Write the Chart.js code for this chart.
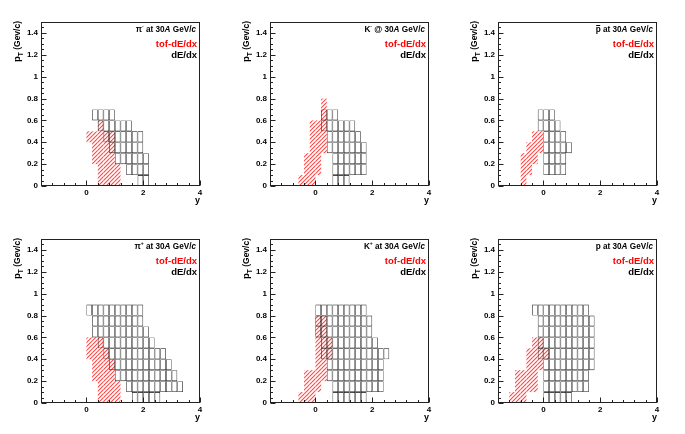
<!DOCTYPE html>
<html>
<head>
<meta charset="utf-8">
<script src="https://cdn.jsdelivr.net/npm/chart.js@4.4.1/dist/chart.umd.min.js"></script>
<style>
  body { margin: 0; background: #fff; width: 685px; height: 434px; position: relative; overflow: hidden; }
  canvas { position: absolute; }
</style>
</head>
<body>
<canvas id="c0" width="228" height="217" style="left:0px;top:0px"></canvas>
<canvas id="c1" width="228" height="217" style="left:229px;top:0px"></canvas>
<canvas id="c2" width="228" height="217" style="left:457px;top:0px"></canvas>
<canvas id="c3" width="228" height="217" style="left:0px;top:217px"></canvas>
<canvas id="c4" width="228" height="217" style="left:229px;top:217px"></canvas>
<canvas id="c5" width="228" height="217" style="left:457px;top:217px"></canvas>
<script>
// bin sizes of the acceptance map
const Y_BIN = 0.2;
const PT_BIN = 0.1;

// axis ticks
const xTickLabels = [0, 2, 4];
const yTickLabels = [0, 0.2, 0.4, 0.6, 0.8, 1, 1.2, 1.4];

// pi- : columns (low y edge) and pT range
const piMinusDedxY  = [0.2, 0.4, 0.6, 0.8, 1.0, 1.2, 1.4, 1.6, 1.8, 2.0];
const piMinusDedxLo = [0.6, 0.5, 0.4, 0.3, 0.2, 0.2, 0.1, 0.1, 0.0, 0.0];
const piMinusDedxHi = [0.7, 0.7, 0.7, 0.7, 0.6, 0.6, 0.6, 0.5, 0.5, 0.3];
const piMinusTofY   = [0.0, 0.2, 0.4, 0.6, 0.8, 1.0];
const piMinusTofLo  = [0.4, 0.2, 0.0, 0.0, 0.0, 0.0];
const piMinusTofHi  = [0.5, 0.5, 0.6, 0.5, 0.5, 0.2];

// K-
const kMinusDedxY  = [0.2, 0.4, 0.6, 0.8, 1.0, 1.2, 1.4, 1.6];
const kMinusDedxLo = [0.5, 0.3, 0.0, 0.0, 0.0, 0.1, 0.1, 0.1];
const kMinusDedxHi = [0.7, 0.7, 0.7, 0.6, 0.6, 0.6, 0.5, 0.4];
const kMinusTofY   = [-0.6, -0.4, -0.2, 0.0, 0.2];
const kMinusTofLo  = [0.0, 0.0, 0.0, 0.1, 0.3];
const kMinusTofHi  = [0.1, 0.3, 0.6, 0.6, 0.8];

// anti-proton
const pBarDedxY  = [-0.2, 0.0, 0.2, 0.4, 0.6, 0.8];
const pBarDedxLo = [0.5, 0.1, 0.1, 0.1, 0.1, 0.3];
const pBarDedxHi = [0.7, 0.7, 0.7, 0.6, 0.5, 0.4];
const pBarTofY   = [-0.8, -0.6, -0.4, -0.2];
const pBarTofLo  = [0.0, 0.1, 0.2, 0.3];
const pBarTofHi  = [0.3, 0.4, 0.5, 0.5];

// pi+
const piPlusDedxY  = [0.0, 0.2, 0.4, 0.6, 0.8, 1.0, 1.2, 1.4, 1.6, 1.8, 2.0, 2.2, 2.4, 2.6, 2.8, 3.0, 3.2];
const piPlusDedxLo = [0.8, 0.6, 0.5, 0.4, 0.3, 0.2, 0.2, 0.1, 0.0, 0.0, 0.0, 0.0, 0.0, 0.1, 0.1, 0.1, 0.1];
const piPlusDedxHi = [0.9, 0.9, 0.9, 0.9, 0.9, 0.9, 0.9, 0.9, 0.9, 0.9, 0.7, 0.6, 0.5, 0.5, 0.4, 0.3, 0.2];
const piPlusTofY   = [0.0, 0.2, 0.4, 0.6, 0.8, 1.0];
const piPlusTofLo  = [0.4, 0.2, 0.0, 0.0, 0.0, 0.0];
const piPlusTofHi  = [0.6, 0.6, 0.6, 0.5, 0.4, 0.2];

// K+
const kPlusDedxY  = [0.0, 0.2, 0.4, 0.6, 0.8, 1.0, 1.2, 1.4, 1.6, 1.8, 2.0, 2.2, 2.4];
const kPlusDedxLo = [0.6, 0.4, 0.2, 0.0, 0.0, 0.0, 0.0, 0.0, 0.0, 0.1, 0.1, 0.1, 0.4];
const kPlusDedxHi = [0.9, 0.9, 0.9, 0.9, 0.9, 0.9, 0.9, 0.9, 0.9, 0.8, 0.6, 0.5, 0.5];
const kPlusTofY   = [-0.6, -0.4, -0.2, 0.0, 0.2, 0.4];
const kPlusTofLo  = [0.0, 0.0, 0.0, 0.1, 0.2, 0.4];
const kPlusTofHi  = [0.1, 0.3, 0.3, 0.8, 0.8, 0.6];

// proton
const pDedxY  = [-0.4, -0.2, 0.0, 0.2, 0.4, 0.6, 0.8, 1.0, 1.2, 1.4, 1.6];
const pDedxLo = [0.8, 0.4, 0.0, 0.0, 0.0, 0.0, 0.0, 0.1, 0.1, 0.1, 0.3];
const pDedxHi = [0.9, 0.9, 0.9, 0.9, 0.9, 0.9, 0.9, 0.9, 0.9, 0.9, 0.8];
const pTofY   = [-1.2, -1.0, -0.8, -0.6, -0.4, -0.2, 0.0];
const pTofLo  = [0.0, 0.0, 0.0, 0.1, 0.1, 0.3, 0.4];
const pTofHi  = [0.1, 0.3, 0.3, 0.5, 0.6, 0.6, 0.5];

const FONT = '"Liberation Sans", Arial, sans-serif';
const RED = '#ff0000';

// panel titles as rich text pieces
const panels = [
  { id: 'c0', title: [['π', ''], ['-', 'sup'], [' at 30', ''], ['A', 'i'], [' GeV/', ''], ['c', 'i']],
    dedx: [piMinusDedxY, piMinusDedxLo, piMinusDedxHi], tof: [piMinusTofY, piMinusTofLo, piMinusTofHi] },
  { id: 'c1', title: [['K', ''], ['-', 'sup'], [' @ 30', ''], ['A', 'i'], [' GeV/', ''], ['c', 'i']],
    dedx: [kMinusDedxY, kMinusDedxLo, kMinusDedxHi], tof: [kMinusTofY, kMinusTofLo, kMinusTofHi] },
  { id: 'c2', title: [['p', 'bar'], [' at 30', ''], ['A', 'i'], [' GeV/', ''], ['c', 'i']],
    dedx: [pBarDedxY, pBarDedxLo, pBarDedxHi], tof: [pBarTofY, pBarTofLo, pBarTofHi] },
  { id: 'c3', title: [['π', ''], ['+', 'sup'], [' at 30', ''], ['A', 'i'], [' GeV/', ''], ['c', 'i']],
    dedx: [piPlusDedxY, piPlusDedxLo, piPlusDedxHi], tof: [piPlusTofY, piPlusTofLo, piPlusTofHi] },
  { id: 'c4', title: [['K', ''], ['+', 'sup'], [' at 30', ''], ['A', 'i'], [' GeV/', ''], ['c', 'i']],
    dedx: [kPlusDedxY, kPlusDedxLo, kPlusDedxHi], tof: [kPlusTofY, kPlusTofLo, kPlusTofHi] },
  { id: 'c5', title: [['p', ''], [' at 30', ''], ['A', 'i'], [' GeV/', ''], ['c', 'i']],
    dedx: [pDedxY, pDedxLo, pDedxHi], tof: [pTofY, pTofLo, pTofHi] }
];

// one floating bar per cell (dE/dx grid)
function dedxCells(ys, lo, hi) {
  const cells = [];
  ys.forEach((y, i) => {
    const k0 = Math.round(lo[i] / PT_BIN);
    const k1 = Math.round(hi[i] / PT_BIN);
    for (let k = k0; k < k1; k++) {
      cells.push({ x: y + Y_BIN / 2, y: [k * PT_BIN, (k + 1) * PT_BIN] });
    }
  });
  return cells;
}

// one floating bar per column (hatched area)
function tofColumns(ys, lo, hi) {
  return ys.map((y, i) => ({ x: y + Y_BIN / 2, y: [lo[i], hi[i]] }));
}

// opaque red-on-white 45deg hatch tile (no alpha, renders the same in every canvas)
function hatchPattern(ctx) {
  const n = 4;
  const c = document.createElement('canvas');
  c.width = n; c.height = n;
  const g = c.getContext('2d', { willReadFrequently: true });
  const img = g.createImageData(n, n);
  const shade = [[255, 190, 190], [255, 255, 255], [255, 215, 215], [255, 80, 80]];
  for (let yy = 0; yy < n; yy++) {
    for (let xx = 0; xx < n; xx++) {
      const s = shade[(xx + yy) % n];
      const o = (yy * n + xx) * 4;
      img.data[o] = s[0]; img.data[o + 1] = s[1]; img.data[o + 2] = s[2]; img.data[o + 3] = 255;
    }
  }
  g.putImageData(img, 0, 0);
  return ctx.createPattern(c, 'repeat');
}

function drawRich(ctx, parts, xRight, yBase, size) {
  const font = (style, s) => (style === 'i' ? 'italic ' : '') + 'bold ' + s + 'px ' + FONT;
  const sz = st => (st === 'sup' ? size * 0.6 : size);
  const widths = parts.map(([t, st]) => {
    ctx.font = font(st, sz(st));
    return ctx.measureText(t).width;
  });
  let x = xRight - widths.reduce((a, b) => a + b, 0);
  parts.forEach(([t, st], i) => {
    ctx.font = font(st, sz(st));
    ctx.fillText(t, x, st === 'sup' ? yBase - size * 0.45 : yBase);
    if (st === 'bar') {
      ctx.fillRect(x + 0.5, Math.round(yBase - size * 0.85), widths[i] - 1, 1);
    }
    x += widths[i];
  });
}

// ROOT-like frame, inward ticks, labels
const rootDecor = {
  id: 'rootDecor',
  afterDraw(chart, args, opts) {
    const { ctx, chartArea: a, scales: { x, y } } = chart;
    ctx.save();
    ctx.strokeStyle = '#222';
    ctx.lineWidth = 1;
    const L = Math.round(a.left) + 0.5, R = Math.round(a.right) - 0.5;
    const T = Math.round(a.top) + 0.5, B = Math.round(a.bottom) - 0.5;
    ctx.strokeRect(L, T, R - L, B - T);

    ctx.beginPath();
    for (let v = x.min; v <= x.max + 1e-6; v += 0.4) {
      const px = Math.round(x.getPixelForValue(v)) + 0.5;
      const major = xTickLabels.some(t => Math.abs(t - v) < 1e-6);
      ctx.moveTo(px, B); ctx.lineTo(px, B - (major ? 5 : 2.5));
    }
    for (let v = 0; v <= y.max + 1e-6; v += 0.05) {
      const py = Math.round(y.getPixelForValue(v)) + 0.5;
      const major = yTickLabels.some(t => Math.abs(t - v) < 1e-6);
      ctx.moveTo(L, py); ctx.lineTo(L + (major ? 5 : 2.5), py);
    }
    ctx.stroke();

    // title + legend
    ctx.fillStyle = '#000';
    ctx.textBaseline = 'alphabetic';
    ctx.textAlign = 'left';
    drawRich(ctx, opts.title, a.right - 4, a.top + 10, 8.2);
    const ds = chart.data.datasets;
    ctx.textAlign = 'right';
    ctx.font = 'bold 9.5px ' + FONT;
    ctx.fillStyle = RED;
    ctx.fillText(ds[1].label, a.right - 3, a.top + 25);
    ctx.fillStyle = '#000';
    ctx.fillText(ds[0].label, a.right - 3, a.top + 35.5);

    // x title
    ctx.font = 'bold 9px ' + FONT;
    ctx.fillText('y', a.right, a.bottom + 17);

    // y title (rotated)
    ctx.translate(a.left - 21, a.top - 1);
    ctx.rotate(-Math.PI / 2);
    ctx.textAlign = 'left';
    const parts = [['p', 9.5, 0], ['T', 6.5, 2.5], [' (Gev/c)', 8.5, 0]];
    let w = 0;
    parts.forEach(([t, s]) => { ctx.font = 'bold ' + s + 'px ' + FONT; w += ctx.measureText(t).width; });
    let px = -w;
    parts.forEach(([t, s, dy]) => {
      ctx.font = 'bold ' + s + 'px ' + FONT;
      ctx.fillText(t, px, dy);
      px += ctx.measureText(t).width;
    });
    ctx.restore();
  }
};

panels.forEach(p => {
  const canvas = document.getElementById(p.id);
  const ctx = canvas.getContext('2d');
  new Chart(canvas, {
    type: 'bar',
    data: {
      datasets: [
        {
          label: 'dE/dx',
          data: dedxCells(...p.dedx),
          backgroundColor: 'rgba(0,0,0,0)',
          borderColor: '#111',
          borderWidth: 0.6,
          borderSkipped: false,
          inflateAmount: 0,
          grouped: false,
          barPercentage: 1,
          categoryPercentage: 1
        },
        {
          label: 'tof-dE/dx',
          data: tofColumns(...p.tof),
          backgroundColor: hatchPattern(ctx),
          borderWidth: 0,
          inflateAmount: 0,
          grouped: false,
          barPercentage: 1,
          categoryPercentage: 1
        }
      ]
    },
    options: {
      responsive: false,
      animation: false,
      events: [],
      layout: { padding: { top: 22, right: 28, left: 0, bottom: 0 } },
      plugins: {
        legend: { display: false },
        tooltip: { enabled: false },
        rootDecor: { title: p.title }
      },
      scales: {
        x: {
          type: 'linear',
          min: -1.6,
          max: 4,
          offset: false,
          grid: { display: false, drawTicks: false },
          border: { display: false },
          afterBuildTicks: s => { s.ticks = xTickLabels.map(v => ({ value: v })); },
          afterFit: s => { s.height = 31; },
          ticks: {
            padding: 2,
            color: '#000',
            font: { family: FONT, size: 8, weight: 'bold' },
            maxRotation: 0,
            callback: v => String(v)
          }
        },
        y: {
          type: 'linear',
          min: 0,
          max: 1.5,
          grid: { display: false, drawTicks: false },
          border: { display: false },
          afterBuildTicks: s => { s.ticks = yTickLabels.map(v => ({ value: v })); },
          afterFit: s => { s.width = 41; },
          ticks: {
            padding: 3,
            color: '#000',
            font: { family: FONT, size: 8, weight: 'bold' },
            callback: v => String(v)
          }
        }
      }
    },
    plugins: [rootDecor]
  });
});
</script>
</body>
</html>
